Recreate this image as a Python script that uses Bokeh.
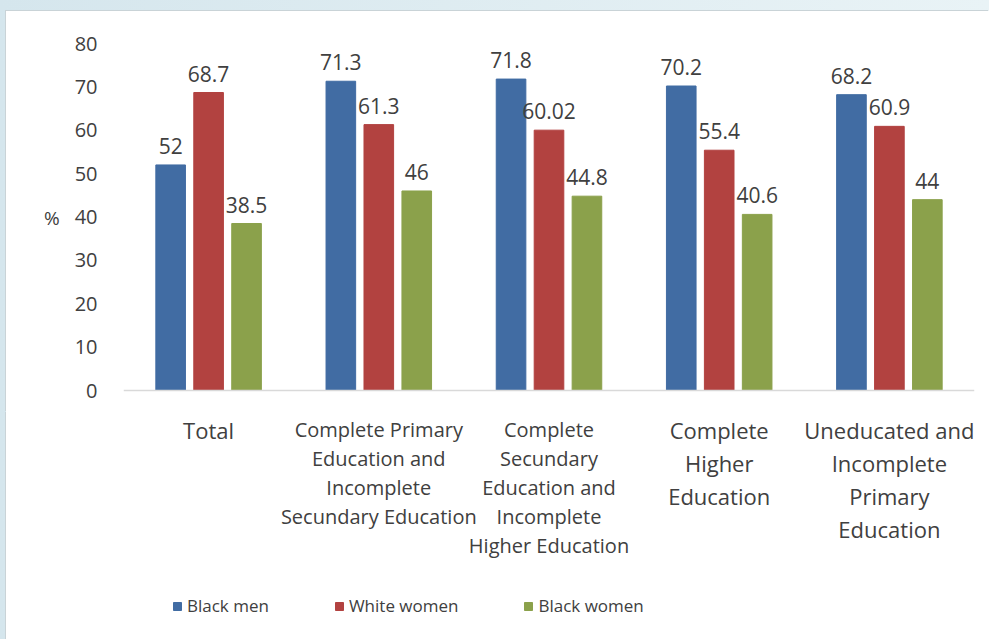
from bokeh.plotting import figure
from bokeh.models import (ColumnDataSource, FactorRange, Range1d, FixedTicker,
                          LabelSet, Legend, LegendItem, Span)
from bokeh.core.properties import value
from bokeh.layouts import column
from bokeh.transform import dodge
from bokeh.embed import file_html
from bokeh.resources import INLINE

# Categories (short keys) and their wrapped axis labels
categories = ["Total", "Primary", "Secundary", "Higher", "Uneducated"]
category_labels = [
    "Total",
    "Complete Primary\nEducation and\nIncomplete\nSecundary Education",
    "Complete\nSecundary\nEducation and\nIncomplete\nHigher Education",
    "Complete\nHigher\nEducation",
    "Uneducated and\nIncomplete\nPrimary\nEducation",
]

# Series values (%)
black_men = [52, 71.3, 71.8, 70.2, 68.2]
white_women = [68.7, 61.3, 60.02, 55.4, 60.9]
black_women = [38.5, 46, 44.8, 40.6, 44]

series_names = ["Black men", "White women", "Black women"]
y_ticks = [0, 10, 20, 30, 40, 50, 60, 70, 80]

colors = ["#416ca3", "#b24240", "#8ba14b"]
FONT = "Open Sans"
TEXT = "#404040"

x_range = FactorRange(*categories, range_padding=0)
series = list(zip(series_names, [black_men, white_women, black_women], colors))
sources = [ColumnDataSource(dict(cat=categories, val=vals,
                                 lab=[f"{v:g}" for v in vals]))
           for _, vals, _ in series]

# --- Bars, value labels and the % axis -------------------------------------
p = figure(
    width=983, height=401,
    x_range=x_range, y_range=Range1d(-0.46, 80),
    output_backend="svg", toolbar_location=None,
    min_border_left=117, min_border_right=15,
    min_border_top=32, min_border_bottom=20,
    background_fill_color="white", border_fill_color="white",
)
p.margin = (11, 0, 0, 6)
p.outline_line_color = None
p.grid.grid_line_color = None

# category baseline
p.add_layout(Span(location=0, dimension="width", line_color="#d9d9d9",
                  line_width=1.5))

offsets = [-0.223, 0.0, 0.223]
bar_w = 0.174
for (name, vals, col), src, off in zip(series, sources, offsets):
    p.vbar(x=dodge("cat", off, range=x_range), top="val", width=bar_w,
           source=src, fill_color=col, line_color=col, line_width=1)
    p.add_layout(LabelSet(
        x=dodge("cat", off, range=x_range), y="val", text="lab", source=src,
        y_offset=19, text_align="center", text_baseline="middle",
        text_font=value(FONT), text_font_size="21px", text_color=TEXT))

p.xaxis.visible = False

p.yaxis.ticker = FixedTicker(ticks=y_ticks)
p.yaxis.axis_line_color = None
p.yaxis.major_tick_line_color = None
p.yaxis.minor_tick_line_color = None
p.yaxis.major_label_standoff = 20
p.yaxis.major_label_text_font = FONT
p.yaxis.major_label_text_font_size = "20px"
p.yaxis.major_label_text_color = TEXT
p.yaxis.axis_label = "%"
p.yaxis.axis_label_orientation = "horizontal"
p.yaxis.axis_label_text_font = FONT
p.yaxis.axis_label_text_font_size = "19px"
p.yaxis.axis_label_text_font_style = "normal"
p.yaxis.axis_label_text_color = TEXT
p.yaxis.axis_label_text_baseline = "hanging"
p.yaxis.axis_label_standoff = 12

# --- Category texts and legend under the baseline ---------------------------
q = figure(
    width=983, height=227,
    x_range=x_range, y_range=Range1d(0, 1),
    output_backend="svg", toolbar_location=None,
    min_border_left=117, min_border_right=15,
    min_border_top=0, min_border_bottom=0,
    background_fill_color="white", border_fill_color="white",
)
q.margin = (0, 0, 0, 6)
q.outline_line_color = None
q.grid.grid_line_color = None
q.axis.visible = False

# one centred text per line; the two long ones are set smaller
small = {"Primary", "Secundary"}
for is_small, size, lead in [(False, "22px", 33), (True, "20px", 29)]:
    cats, ys, lines, dys = [], [], [], []
    for cat, lab in zip(categories, category_labels):
        if (cat in small) != is_small:
            continue
        for i, line in enumerate(lab.split("\n")):
            cats.append(cat)
            ys.append(1)
            lines.append(line)
            dys.append(-(17 + i * lead))
    src = ColumnDataSource(dict(cat=cats, y=ys, lab=lines, dy=dys))
    q.add_layout(LabelSet(
        x="cat", y="y", text="lab", y_offset="dy", source=src,
        text_align="center", text_baseline="middle",
        text_font=value(FONT), text_font_size=size, text_color=TEXT))

# legend swatches come from hidden copies of the bar renderers
legend_items = []
for (name, vals, col), src in zip(series, sources):
    r = q.vbar(x="cat", top="val", width=bar_w, source=src,
               fill_color=col, line_color=col, visible=False)
    legend_items.append(LegendItem(label=name, renderers=[r]))

legend = Legend(
    items=legend_items, orientation="horizontal",
    location=(49, 22), spacing=65, padding=0, margin=0,
    glyph_width=10, glyph_height=10, label_standoff=5,
    label_text_font=FONT, label_text_font_size="17px", label_text_color=TEXT,
    border_line_color=None, background_fill_alpha=0,
    inactive_fill_alpha=0,
)
q.add_layout(legend, "center")

page = column(
    p, q, width=989, height=639, spacing=0,
    styles={"background": "linear-gradient(to right, #d5e6ed, #e9f3f6)"},
)
p.styles = {"background-color": "white", "box-shadow": "-1px -1px 0 #c9d3d7"}
q.styles = {"background-color": "white", "box-shadow": "-1px 0 0 #c9d3d7"}

open("out.html", "w").write(file_html(page, INLINE))
